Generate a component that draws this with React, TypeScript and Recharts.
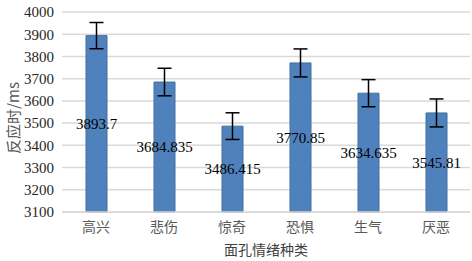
import React from 'react';
import { BarChart, Bar, XAxis, YAxis, CartesianGrid, ErrorBar, LabelList } from 'recharts';

const categories = ['高兴', '悲伤', '惊奇', '恐惧', '生气', '厌恶'];
const meanRT = [3893.7, 3684.835, 3486.415, 3770.85, 3634.635, 3545.81];
const errors = [59, 62, 60, 63, 61, 63];
const yTicks = [3100, 3200, 3300, 3400, 3500, 3600, 3700, 3800, 3900, 4000];

const data = categories.map((c, i) => ({ name: c, value: meanRT[i], err: errors[i] }));

const serif = '"Liberation Serif", "Times New Roman", serif';
const cjk = '"Noto Sans CJK SC", sans-serif';

const YTitle = (props: any) => {
  const vb = props.viewBox || {};
  const cx = 12;
  const cy = (vb.y ?? 12) + (vb.height ?? 200) / 2 + 6;
  return (
    <text
      x={cx}
      y={cy}
      transform={`rotate(-90 ${cx} ${cy})`}
      textAnchor="middle"
      dominantBaseline="central"
      fill="#595959"
      fontSize={15}
      fontFamily={cjk}
    >
      反应时/ms
    </text>
  );
};

export default function App() {
  return (
    <div style={{ position: 'absolute', left: 0, top: 0, width: 472, height: 261, background: '#fff' }}>
      <BarChart width={472} height={261} data={data} margin={{ top: 12, right: 2, left: 0, bottom: 0 }} barCategoryGap={0}>
        <CartesianGrid vertical={false} stroke="#D9D9D9" strokeWidth={1.5} />
        <XAxis
          dataKey="name"
          height={49}
          tickLine={false}
          axisLine={{ stroke: '#D9D9D9', strokeWidth: 1.5 }}
          tick={{ fill: '#595959', fontSize: 14, fontFamily: cjk }}
          tickMargin={4}
          label={{ value: '面孔情绪种类', position: 'insideBottom', offset: 6, fill: '#404040', fontSize: 14, fontFamily: cjk }}
        />
        <YAxis
          width={62}
          domain={[3100, 4000]}
          ticks={yTicks}
          interval={0}
          tickLine={false}
          axisLine={false}
          tick={{ fill: '#262626', fontSize: 15, fontFamily: serif }}
          tickMargin={2}
          label={<YTitle />}
        />
        <Bar dataKey="value" fill="#4F81BD" stroke="#41719C" strokeWidth={1} barSize={21} isAnimationActive={false}>
          <ErrorBar dataKey="err" width={7} stroke="#000" strokeWidth={1.5} direction="y" />
          <LabelList dataKey="value" position="center" fill="#000" fontSize={15} fontFamily={serif} />
        </Bar>
      </BarChart>
    </div>
  );
}
